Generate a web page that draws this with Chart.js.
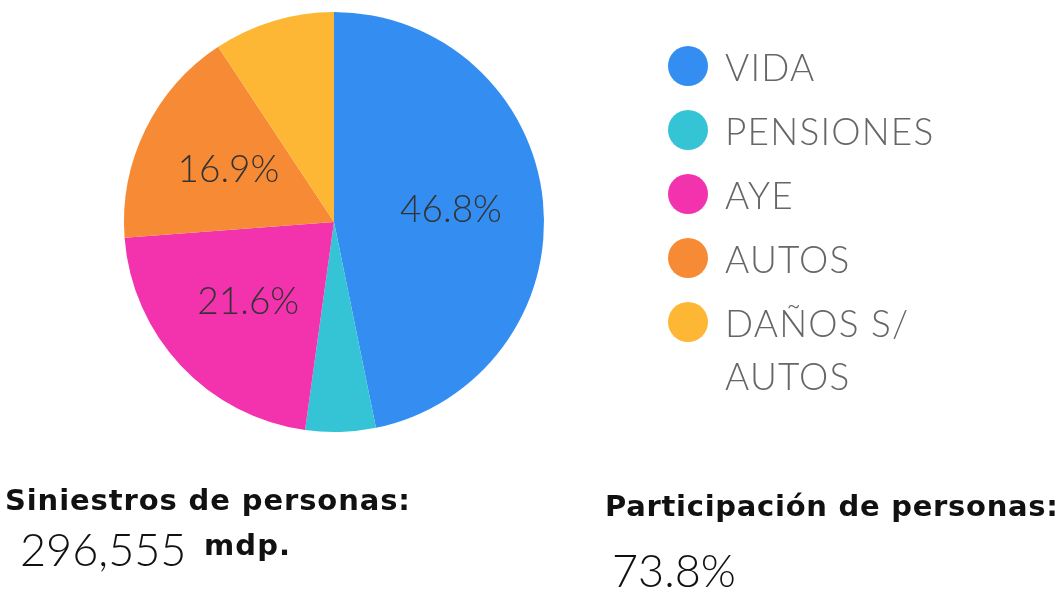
<!DOCTYPE html>
<html>
<head>
<meta charset="utf-8">
<script src="https://cdn.jsdelivr.net/npm/chart.js@4/dist/chart.umd.min.js"></script>
<style>
  body { margin: 0; background: #fff; font-family: "Lato", sans-serif; }
  #wrap { position: relative; width: 1064px; height: 590px; overflow: hidden; }
  #pie { position: absolute; left: 0; top: 0; }
  .legend { position: absolute; left: 668px; top: 46px; }
  .legend .item { display: flex; align-items: flex-start; height: 64px; }
  .legend .dot { width: 40px; height: 40px; border-radius: 50%; flex: none; }
  .legend .txt { margin-left: 17px; font-weight: 300; font-size: 37px; line-height: 53px; color: #666; width: 240px; margin-top: -6px; letter-spacing: 1.2px; }
  .b { position: absolute; font-family: "DejaVu Sans", sans-serif; font-weight: 700; color: #111; font-size: 29px; white-space: nowrap; line-height: 32px; }
  .l { position: absolute; font-weight: 300; color: #111; font-size: 45px; white-space: nowrap; }
</style>
</head>
<body>
<div id="wrap">
  <canvas id="pie" width="1064" height="590"></canvas>
  <div class="legend" id="legend"></div>
  <div class="b" id="t1" style="left:5px; top:484px;">Siniestros de personas:</div>
  <div class="l" style="left:20px; top:522px;">296,555</div>
  <div class="b" id="t3" style="left:204px; top:529px;">mdp.</div>
  <div class="b" id="t2" style="left:605px; top:490px;">Participación de personas:</div>
  <div class="l" style="left:612px; top:543px;">73.8%</div>
</div>
<script>
// Ramos (categories) and share of claims (%)
const ramos = ["VIDA", "PENSIONES", "AYE", "AUTOS", "DAÑOS S/ AUTOS"];
const participacion = [46.8, 5.4, 21.6, 16.9, 9.3];
const colores = ["#348ef1", "#34c4d5", "#f233ad", "#f78b35", "#feb735"];

// html legend (the last label wraps onto two lines)
const legend = document.getElementById("legend");
ramos.forEach((r, i) => {
  const item = document.createElement("div");
  item.className = "item";
  item.innerHTML = '<div class="dot" style="background:' + colores[i] + '"></div><div class="txt">' + r + '</div>';
  legend.appendChild(item);
});

// stretch the bold captions to the width they have in the original
function fitWidth(el, w) {
  const cur = el.getBoundingClientRect().width;
  const n = el.textContent.length - 1;
  el.style.letterSpacing = ((w - cur) / n).toFixed(2) + "px";
}
fitWidth(document.getElementById("t1"), 405);
fitWidth(document.getElementById("t2"), 453);
fitWidth(document.getElementById("t3"), 86);

// draw % labels inside the big slices
const pctLabels = {
  id: "pctLabels",
  afterDatasetsDraw(chart) {
    const ctx = chart.ctx;
    const meta = chart.getDatasetMeta(0);
    ctx.save();
    ctx.font = "300 37px Lato";
    ctx.fillStyle = "#333";
    ctx.textAlign = "center";
    ctx.textBaseline = "middle";
    meta.data.forEach((arc, i) => {
      const v = participacion[i];
      if (v < 10) return;
      const p = arc.getProps(["x", "y", "startAngle", "endAngle", "outerRadius"], true);
      const mid = (p.startAngle + p.endAngle) / 2;
      const d = p.outerRadius * 0.56;
      ctx.fillText(v.toFixed(1) + "%", p.x + Math.cos(mid) * d, p.y + Math.sin(mid) * d);
    });
    ctx.restore();
  }
};

new Chart(document.getElementById("pie"), {
  type: "pie",
  data: {
    labels: ramos,
    datasets: [{
      data: participacion,
      backgroundColor: colores,
      borderWidth: 0
    }]
  },
  options: {
    responsive: false,
    animation: false,
    layout: { padding: { top: 12, bottom: 158, left: 124, right: 520 } },
    plugins: {
      legend: { display: false },
      tooltip: { enabled: false }
    }
  },
  plugins: [pctLabels]
});
</script>
</body>
</html>
